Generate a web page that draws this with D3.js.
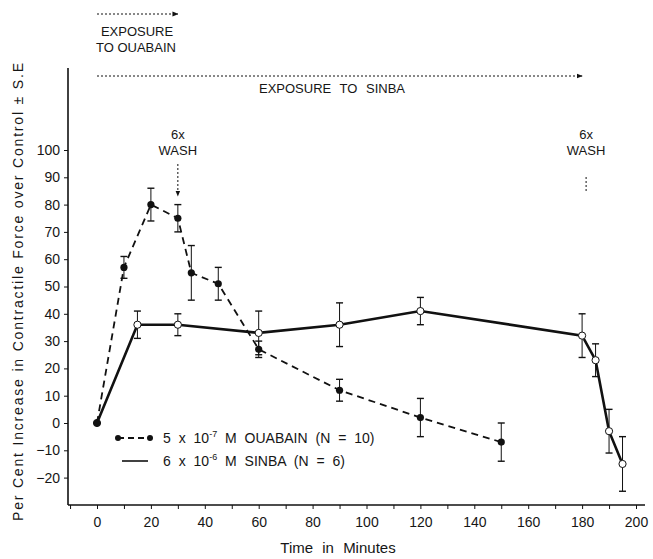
<!DOCTYPE html>
<meta charset="utf-8">
<script src="https://d3js.org/d3.v7.min.js"></script>
<style>
  body { margin: 0; background: #fff; }
  text { font-family: "Liberation Sans", Arial, sans-serif; fill: #161616; }
</style>
<div id="chart"></div>
<script>
// ouabain 5e-7 M (filled circles, dashed line)
const ouabainTime = [0, 10, 20, 30, 35, 45, 60, 90, 120, 150];
const ouabainMean = [0, 57, 80, 75, 55, 51, 27, 12, 2, -7];
const ouabainSE   = [0, 4, 6, 5, 10, 6, 3, 4, 7, 7];

// SINBA 6e-6 M (open circles, solid line)
const sinbaTime = [0, 15, 30, 60, 90, 120, 180, 185, 190, 195];
const sinbaMean = [0, 36, 36, 33, 36, 41, 32, 23, -3, -15];
const sinbaSE   = [0, 5, 4, 8, 8, 5, 8, 6, 8, 10];

const xTicks = [-10, 0, 10, 20, 30, 40, 50, 60, 70, 80, 90, 100, 110, 120, 130, 140, 150, 160, 170, 180, 190, 200];
const xLabels = [0, 20, 40, 60, 80, 100, 120, 140, 160, 180, 200];
const yTicks = [-20, -10, 0, 10, 20, 30, 40, 50, 60, 70, 80, 90, 100];

const W = 653, H = 559;
const svg = d3.select("#chart").append("svg")
    .attr("width", W).attr("height", H);

const x = d3.scaleLinear().domain([0, 200]).range([97, 636]);
const y = d3.scaleLinear().domain([0, 100]).range([423, 150]);

const axisLeftX = 68, axisBottomY = 505;
const ink = "#111";

// frame lines
svg.append("line").attr("x1", axisLeftX).attr("x2", axisLeftX)
    .attr("y1", 68).attr("y2", axisBottomY)
    .attr("stroke", ink).attr("stroke-width", 1.6);
svg.append("line").attr("x1", axisLeftX).attr("x2", 645)
    .attr("y1", axisBottomY).attr("y2", axisBottomY)
    .attr("stroke", ink).attr("stroke-width", 1.6);

// x axis
const gx = svg.append("g").attr("transform", `translate(0,${axisBottomY})`)
    .call(d3.axisBottom(x).tickValues(xTicks).tickSize(4).tickPadding(8)
        .tickFormat(d => xLabels.includes(d) ? d : ""));
gx.select(".domain").remove();
gx.selectAll("line").attr("stroke", ink);
gx.selectAll("text").style("font-size", "14px").attr("fill", "#161616");

// y axis
const gy = svg.append("g").attr("transform", `translate(${axisLeftX},0)`)
    .call(d3.axisLeft(y).tickValues(yTicks).tickSize(4).tickPadding(4));
gy.select(".domain").remove();
gy.selectAll("line").attr("stroke", ink);
gy.selectAll("text").style("font-size", "14px").attr("fill", "#161616");

// axis titles
svg.append("text")
    .attr("x", 338).attr("y", 553)
    .attr("text-anchor", "middle")
    .style("font-size", "15px")
    .style("word-spacing", "5px")
    .text("Time in Minutes");

svg.append("text")
    .attr("transform", "translate(23,292) rotate(-90)")
    .attr("text-anchor", "middle")
    .attr("textLength", 458).attr("lengthAdjust", "spacing")
    .style("font-size", "14px")
    .text("Per Cent  Increase  in  Contractile  Force  over  Control ± S.E");

// arrow marker
svg.append("defs").append("marker")
    .attr("id", "arr").attr("viewBox", "0 0 10 10")
    .attr("refX", 9).attr("refY", 5)
    .attr("markerWidth", 6).attr("markerHeight", 6)
    .attr("orient", "auto-start-reverse")
    .append("path").attr("d", "M0,1 L10,5 L0,9 Z").attr("fill", ink);

// exposure annotations
svg.append("line").attr("x1", x(0)).attr("x2", x(30))
    .attr("y1", 14).attr("y2", 14)
    .attr("stroke", ink).attr("stroke-width", 1)
    .attr("stroke-dasharray", "2,2").attr("marker-end", "url(#arr)");
svg.append("text").attr("x", 137).attr("y", 36).attr("text-anchor", "middle")
    .style("font-size", "13px").text("EXPOSURE");
svg.append("text").attr("x", 136).attr("y", 52).attr("text-anchor", "middle")
    .style("font-size", "13px").text("TO OUABAIN");

svg.append("line").attr("x1", x(0)).attr("x2", x(180))
    .attr("y1", 76).attr("y2", 76)
    .attr("stroke", ink).attr("stroke-width", 1)
    .attr("stroke-dasharray", "2,2").attr("marker-end", "url(#arr)");
svg.append("text").attr("x", 332).attr("y", 93).attr("text-anchor", "middle")
    .style("font-size", "13px").style("word-spacing", "5px").text("EXPOSURE TO SINBA");

// wash annotations
[[30, true], [180, false]].forEach(([t, arrow]) => {
    const cx = x(t) + (arrow ? 0 : 4);
    svg.append("text").attr("x", cx).attr("y", 139).attr("text-anchor", "middle")
        .style("font-size", "13px").text("6x");
    svg.append("text").attr("x", cx).attr("y", 155).attr("text-anchor", "middle")
        .style("font-size", "13px").text("WASH");
    svg.append("line").attr("x1", cx).attr("x2", cx)
        .attr("y1", arrow ? 164 : 177).attr("y2", arrow ? 196 : 192)
        .attr("stroke", ink).attr("stroke-width", 1)
        .attr("stroke-dasharray", "2,2")
        .attr("marker-end", arrow ? "url(#arr)" : null);
});

function drawSeries(times, means, ses, dashed, filled) {
    const data = times.map((t, i) => ({ t, m: means[i], se: ses[i] }));
    const line = d3.line().x(d => x(d.t)).y(d => y(d.m));
    svg.append("path").datum(data)
        .attr("d", line).attr("fill", "none")
        .attr("stroke", ink)
        .attr("stroke-width", dashed ? 1.8 : 2.6)
        .attr("stroke-dasharray", dashed ? "7,5" : null);

    const eb = svg.append("g");
    data.filter(d => d.se > 0).forEach(d => {
        const xx = x(d.t);
        eb.append("line").attr("x1", xx).attr("x2", xx)
            .attr("y1", y(d.m + d.se)).attr("y2", y(d.m - d.se))
            .attr("stroke", ink).attr("stroke-width", 1);
        [d.m + d.se, d.m - d.se].forEach(v => {
            eb.append("line").attr("x1", xx - 3.5).attr("x2", xx + 3.5)
                .attr("y1", y(v)).attr("y2", y(v))
                .attr("stroke", ink).attr("stroke-width", 1.4);
        });
    });

    svg.append("g").selectAll("circle").data(data).join("circle")
        .attr("cx", d => x(d.t)).attr("cy", d => y(d.m))
        .attr("r", 3.6)
        .attr("fill", filled ? ink : "#fff")
        .attr("stroke", ink).attr("stroke-width", filled ? 0 : 1);
}

drawSeries(sinbaTime, sinbaMean, sinbaSE, false, false);
drawSeries(ouabainTime, ouabainMean, ouabainSE, true, true);

// legend
const lg = svg.append("g");
lg.append("line").attr("x1", 118).attr("x2", 150).attr("y1", 438).attr("y2", 438)
    .attr("stroke", ink).attr("stroke-width", 1.8).attr("stroke-dasharray", "6,4");
lg.append("circle").attr("cx", 118).attr("cy", 438).attr("r", 3).attr("fill", ink);
lg.append("circle").attr("cx", 150).attr("cy", 438).attr("r", 3).attr("fill", ink);
lg.append("line").attr("x1", 122).attr("x2", 148).attr("y1", 461).attr("y2", 461)
    .attr("stroke", ink).attr("stroke-width", 1.6);

const t1 = lg.append("text").attr("x", 163).attr("y", 443).style("font-size", "14px")
    .style("word-spacing", "4px");
t1.append("tspan").text("5 x 10");
t1.append("tspan").attr("dy", -6).style("font-size", "9px").text("-7");
t1.append("tspan").attr("dy", 6).text(" M  OUABAIN  (N = 10)");

const t2 = lg.append("text").attr("x", 163).attr("y", 466).style("font-size", "14px")
    .style("word-spacing", "4px");
t2.append("tspan").text("6 x 10");
t2.append("tspan").attr("dy", -6).style("font-size", "9px").text("-6");
t2.append("tspan").attr("dy", 6).text(" M  SINBA  (N = 6)");
</script>
